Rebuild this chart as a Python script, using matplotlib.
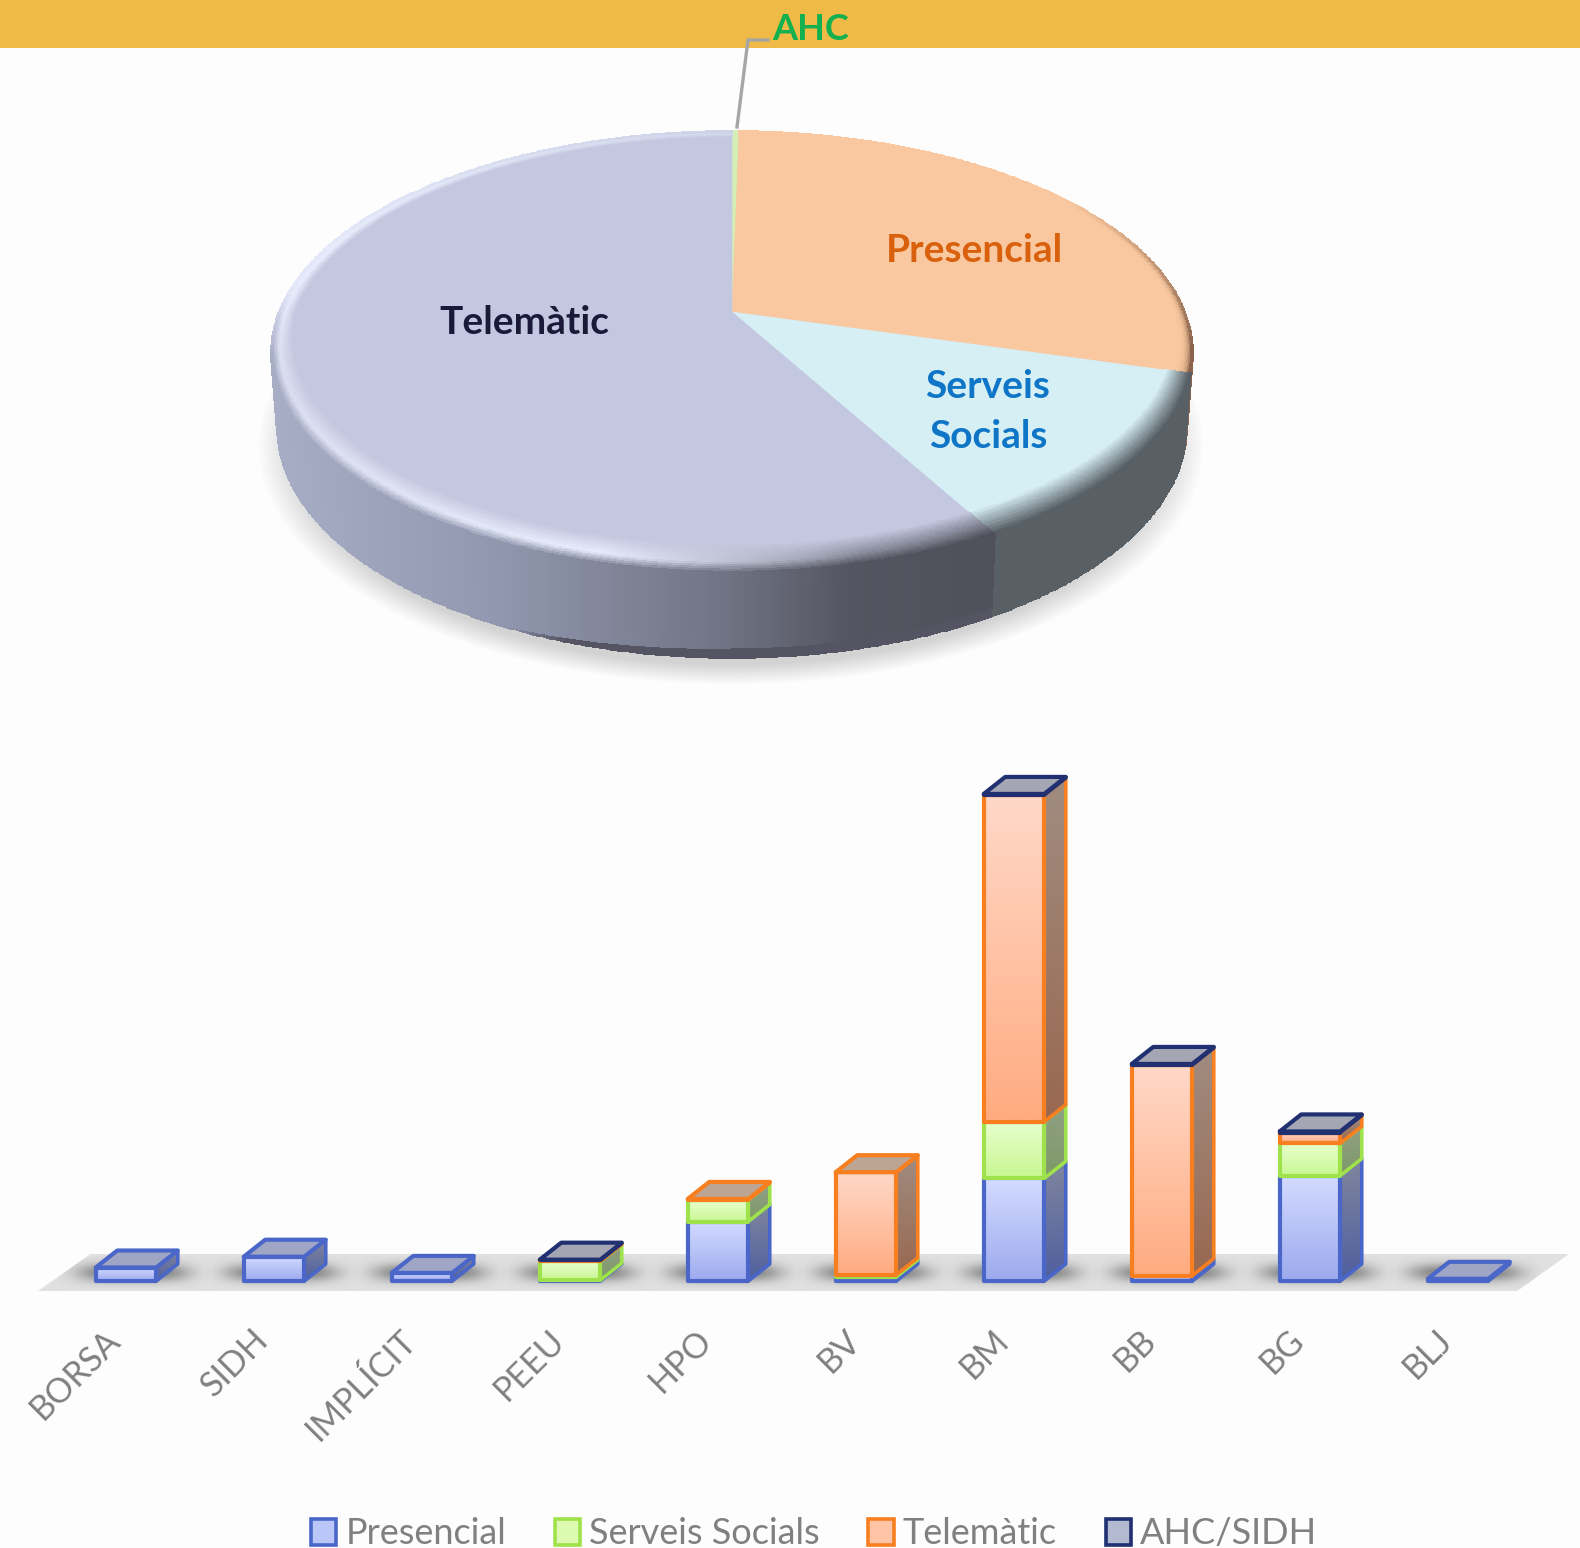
import numpy as np
import matplotlib
matplotlib.use('Agg')
import matplotlib.pyplot as plt
from matplotlib.patches import Ellipse, Patch, Polygon, Rectangle
from matplotlib.transforms import ScaledTranslation

plt.rcParams['font.family'] = ['Lato', 'DejaVu Sans']

# pie, clockwise from 12 o'clock (%)
pie_labels = ['AHC', 'Presencial', 'Serveis Socials', 'Telemàtic']
pie_values = [0.3, 29.1, 12.5, 58.1]

# stacked bars
categories = ['BORSA', 'SIDH', 'IMPLÍCIT', 'PEEU', 'HPO', 'BV', 'BM', 'BB', 'BG', 'BLJ']
presencial = [5, 9, 3, 0.3, 22, 1.5, 38, 2, 39, 0.8]
serveis = [0, 0, 0, 7, 8, 0.8, 21, 0, 12, 0]
telematic = [0, 0, 0, 0.4, 0.4, 38, 121, 78, 4, 0]
ahc_sidh = [0, 0, 0, 0.2, 0, 0, 0.4, 0.4, 0.4, 0]
series_names = ['Presencial', 'Serveis Socials', 'Telemàtic', 'AHC/SIDH']

BG = '#fdfdfd'
W, H = 1580, 1548
fig = plt.figure(figsize=(W / 100, H / 100), dpi=100, facecolor=BG)

# ---------- pie, axes in pixels ----------
ax = fig.add_axes([0, 0, 1, 1])
ax.set_xlim(0, W)
ax.set_ylim(H, 0)
ax.axis('off')
ax.add_patch(Rectangle((0, 0), W, 48, fc='#efbb46', ec='none', zorder=1))

X0, Y0, A, B, K = 732, 312, 453, 214, 0.1828


def proj(theta, r=1.0):
    # disc seen in perspective, theta in degrees clockwise from the back
    t = np.radians(theta)
    u, v = r * np.sin(t), r * np.cos(t)
    w = 1 + K * v
    return X0 + A * u / w, Y0 - B * v / w


def lower(x, y):
    return 731 + (x - 731) * 455 / 461, 428 + (y - 353) * 231 / 222


def mix(a, b, t):
    return a * (1 - t) + b * t


# soft shadow under the disc
for i in range(14):
    f = 1 - i * 0.006
    ax.add_patch(Ellipse((731, 446), 2 * 472 * f, 2 * 238 * f, fc='#808080', ec='none', alpha=0.022, zorder=2))

face_cols = {'AHC': (213, 238, 181), 'Presencial': (249, 200, 160),
             'Serveis Socials': (214, 239, 245), 'Telemàtic': (195, 200, 224)}
wall_cols = {'AHC': (150, 160, 130), 'Presencial': (140, 100, 75),
             'Serveis Socials': (88, 96, 102), 'Telemàtic': None}


def wall_rgb(name, x):
    if wall_cols[name] is not None:
        return np.ones((len(x), 3)) * np.array(wall_cols[name])
    t = (x - 271) / (996 - 271)
    return np.stack([np.interp(t, [0, .3, .62, .8, 1], c) for c in
                     ([168, 146, 112, 84, 80], [173, 152, 116, 85, 80], [198, 176, 132, 96, 90])], axis=1)


edges = np.concatenate([[0], np.cumsum(pie_values)]) * 3.6
for name, a0, a1 in zip(pie_labels, edges[:-1], edges[1:]):
    th = np.arange(a0, a1, 0.4)
    th = np.append(th, a1)
    mid = 0.5 * (th[:-1] + th[1:])
    face = np.array(face_cols[name], float)

    # side wall, a darker lip tapers along the bottom at the front
    xt, yt = proj(th)
    xb, yb = lower(xt, yt)
    lip = np.interp(th, [0, 150, 180, 190, 205, 360], [0, 1, 1, .7, 0, 0])
    if name != 'Telemàtic':
        lip = lip * 0
    z_lip = 1 - 0.1 * lip
    XX = np.stack([xt, mix(xt, xb, z_lip), xb])
    YY = np.stack([yt, mix(yt, yb, z_lip), yb])
    wc = wall_rgb(name, 0.5 * (xt[:-1] + xt[1:]))
    lip_col = np.clip(0.5 * (lip[:-1] + lip[1:]) * 3, 0, 1)[:, None]
    C = np.stack([wc, mix(wc, np.array([84, 84, 98.]), lip_col)]) / 255
    ax.pcolormesh(XX, YY, C, shading='flat', edgecolors='face', linewidth=0.3, zorder=3)

    # top face
    xf, yf = proj(th, 0.99)
    ax.add_patch(Polygon(np.column_stack([np.r_[X0, xf], np.r_[Y0, yf]]), fc=face / 255, ec=face / 255, lw=0.4, zorder=4))

    # rounded rim between face and wall, wider toward the viewer
    r_in = 1 - (0.035 + 0.06 * np.clip(-np.cos(np.radians(th)), 0, 1))
    ss = np.linspace(0, 1, 15)
    RX = np.array([proj(th, r_in + (1 - r_in) * s)[0] for s in ss])
    RY = np.array([proj(th, r_in + (1 - r_in) * s)[1] for s in ss])
    back = np.clip((0.1 - np.cos(np.radians(mid))) / 0.3, 0, 1)[:, None]
    wall_top = wall_rgb(name, 0.5 * (RX[-1, :-1] + RX[-1, 1:]))
    C = np.zeros((len(ss) - 1, len(mid), 3))
    if name == 'Telemàtic':
        hl_w = np.interp(mid, [150, 165, 180, 195, 250, 290, 360], [0, .12, .5, .95, .7, .8, .25])[:, None]
        hl_col = np.array([236, 240, 255.])
        outer = mix(mix(face, hl_col, hl_w), wall_top, back)
        p = 0.65
        hl = mix(mix(face, outer, p), hl_col, hl_w)
        for j, s in enumerate(np.linspace(0, 1, len(ss) - 1)):
            C[j] = mix(face, hl, s / p) if s < p else mix(hl, outer, (s - p) / (1 - p))
    elif name == 'Presencial':
        # only a thin brown edge here
        edge_w = np.clip((mid - 55) / 45, 0, 1)[:, None]
        outer = mix(face, np.array([140, 100, 75.]), edge_w)
        for j, s in enumerate(np.linspace(0, 1, len(ss) - 1)):
            C[j] = mix(face, outer, s ** 5)
    else:
        outer = mix(face, wall_top, back)
        for j, s in enumerate(np.linspace(0, 1, len(ss) - 1)):
            C[j] = mix(face, outer, s)
    ax.pcolormesh(RX, RY, C / 255, shading='flat', edgecolors='face', linewidth=0.3, zorder=5)

# labels of the pie
ax.plot([737, 748, 768], [127, 40, 40], color='#a6a6a6', lw=2.4, zorder=6, solid_joinstyle='miter')
bold = dict(fontweight='bold', fontsize=28, ha='center', va='center', zorder=7)
ax.text(811, 30, 'AHC', color='#12b04e', **{**bold, 'fontsize': 26})
ax.text(974, 251, 'Presencial', color='#d9600c', **bold)
ax.text(524, 322, 'Telemàtic', color='#1a1a38', **bold)
ax.text(988, 387, 'Serveis', color='#0f75c6', **bold)
ax.text(988, 437, 'Socials', color='#0f75c6', **bold)

# ---------- bars ----------
PX = 2.7  # pixels per unit
STEP = 148
top_px, bottom_px = 700, 1291
bx = fig.add_axes([0, 1 - bottom_px / H, 1, (bottom_px - top_px) / H])
bx.patch.set_alpha(0)
for s in bx.spines.values():
    s.set_visible(False)
bx.tick_params(left=False, labelleft=False, bottom=False)
xlim = (-126 / STEP, (W - 126) / STEP)
ylim = ((1281 - bottom_px) / PX, (1281 - top_px) / PX)

x_pos = np.arange(len(categories))
BAR_W = 60.5 / STEP
DX, DY = 21.5 / STEP, 17 / PX

floor = Polygon([(-0.595, ylim[0]), (9.4, ylim[0]), (9.75, 10), (-0.24, 10)], fc='#e0e0e0', ec='none', zorder=1)
bx.add_patch(floor)

# contact shadow used under every bar
gy, gx = np.mgrid[-1:1:40j, -1:1:120j]
shade = np.zeros(gx.shape + (4,))
shade[..., :3] = 0.4
shade[..., 3] = 0.8 * np.exp(-(gx * 1.35) ** 4 - (gy * 1.8) ** 2)
for x in x_pos:
    im = bx.imshow(shade, extent=(x - 0.46, x + 0.56, -3, 9), aspect='auto', zorder=2, interpolation='bilinear')
    im.set_clip_path(floor)

styles = [
    dict(edge='#4a66c8', f0='#d3dbff', f1='#9daaee', s0='#80869f', s1='#4f5f9e', top='#9fa5c5'),
    dict(edge='#a0e24c', f0='#e8ffcf', f1='#c9f792', s0='#8f9f84', s1='#7f9a68', top='#b0c0a0'),
    dict(edge='#f77f20', f0='#ffd8c8', f1='#ffab80', s0='#a08c80', s1='#996850', top='#bda594'),
    dict(edge='#203070', f0='#c8cde6', f1='#9aa0bb', s0='#8a8ca0', s1='#70748c', top='#a5a6b4'),
]


def gradient(c0, c1, box, clip, z):
    rgb0, rgb1 = np.array(matplotlib.colors.to_rgb(c0)), np.array(matplotlib.colors.to_rgb(c1))
    t = np.linspace(0, 1, 64)[:, None, None]
    img = rgb0[None, None, :] * (1 - t) + rgb1[None, None, :] * t
    im = bx.imshow(img, extent=box, aspect='auto', zorder=z, interpolation='bilinear')
    im.set_clip_path(clip)


z = 3
for i, x in enumerate(x_pos):
    left, right = x - BAR_W / 2, x + BAR_W / 2
    bottom = 0
    last = None
    for vals, st in zip([presencial, serveis, telematic, ahc_sidh], styles):
        v = vals[i]
        if v == 0:
            continue
        # side
        side = Polygon([(right, bottom), (right + DX, bottom + DY), (right + DX, bottom + v + DY), (right, bottom + v)],
                       fc='none', ec=st['edge'], lw=2.6, joinstyle='round', zorder=z + 1)
        bx.add_patch(side)
        gradient(st['s0'], st['s1'], (right, right + DX, bottom, bottom + v + DY), side, z)
        # front
        front = Rectangle((left, bottom), BAR_W, v, fc='none', ec=st['edge'], lw=3.0, joinstyle='round', zorder=z + 3)
        bx.add_patch(front)
        gradient(st['f0'], st['f1'], (left, right, bottom, bottom + v), front, z + 2)
        z += 4
        bottom += v
        last = st
    bx.add_patch(Polygon([(left, bottom), (left + DX, bottom + DY), (right + DX, bottom + DY), (right, bottom)],
                         fc=last['top'], ec=last['edge'], lw=3.0, joinstyle='round', zorder=z))
    z += 1

bx.set_xlim(*xlim)
bx.set_ylim(*ylim)
bx.set_xticks(x_pos, categories, rotation=45, ha='right', va='top', rotation_mode='anchor',
              color='#808080', fontsize=24.5)
bx.tick_params(axis='x', pad=22, length=0)
shift = ScaledTranslation(-22 / 100, -2 / 100, fig.dpi_scale_trans)
for lab in bx.get_xticklabels():
    lab.set_transform(lab.get_transform() + shift)

handles = [Patch(fc=c, ec=st['edge'], lw=2.6, label=n) for n, st, c in
           zip(series_names, styles, ['#bac5f8', '#dcfbb0', '#ffc4a6', '#b4b9d2'])]
fig.legend(handles=handles, ncol=4, loc='center', bbox_to_anchor=(814 / W, 1 - 1534 / H), frameon=False,
           labelcolor='#808080', fontsize=26, handlelength=0.7, handleheight=0.7, handletextpad=0.25,
           columnspacing=1.35, borderpad=0)

fig.savefig('out.png', dpi=100, facecolor=BG)
